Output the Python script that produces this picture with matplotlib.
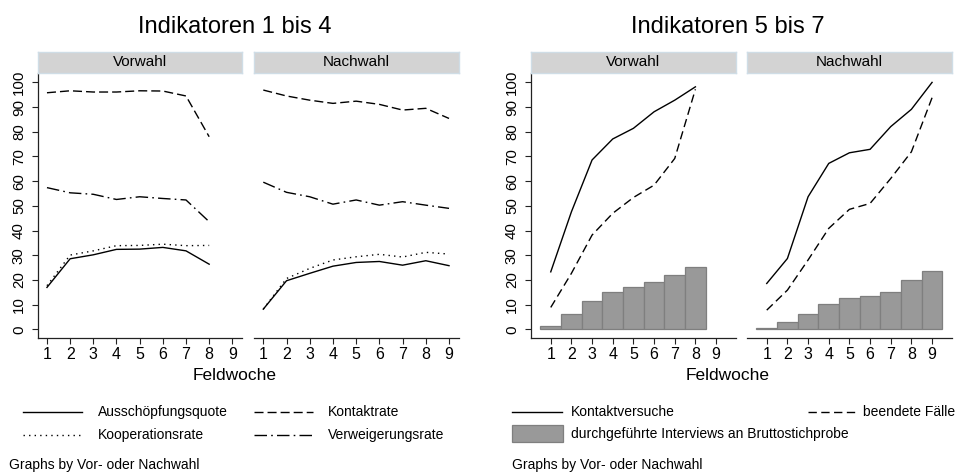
import matplotlib
matplotlib.use("Agg")
import matplotlib.pyplot as plt
from matplotlib.lines import Line2D
from matplotlib.patches import Rectangle

plt.rcParams['font.family'] = ['Liberation Sans', 'DejaVu Sans']

# ---------------- data ----------------
weeks_vor = [1, 2, 3, 4, 5, 6, 7, 8]
weeks_nach = [1, 2, 3, 4, 5, 6, 7, 8, 9]

# Indikatoren 1 bis 4
aus_vor = [17.0, 28.6, 30.2, 32.4, 32.5, 33.2, 31.8, 26.4]
koop_vor = [17.7, 30.1, 31.8, 33.9, 34.0, 34.5, 33.9, 34.0]
kont_vor = [95.8, 96.6, 96.1, 96.1, 96.6, 96.5, 94.5, 78.0]
verw_vor = [57.4, 55.3, 54.7, 52.6, 53.7, 53.0, 52.4, 43.6]

aus_nach = [8.2, 19.7, 22.7, 25.6, 27.1, 27.5, 26.0, 27.8, 25.8]
koop_nach = [8.2, 20.6, 24.7, 28.1, 29.4, 30.4, 29.3, 31.2, 30.5]
kont_nach = [96.9, 94.5, 92.8, 91.5, 92.4, 91.1, 88.8, 89.5, 85.4]
verw_nach = [59.6, 55.5, 53.7, 50.7, 52.4, 50.3, 51.7, 50.3, 49.0]

# Indikatoren 5 bis 7
versuche_vor = [23.3, 47.6, 68.6, 77.1, 81.4, 88.1, 92.8, 98.2]
beendet_vor = [8.9, 22.7, 38.2, 47.0, 53.4, 58.4, 69.2, 97.2]
interviews_vor = [1.3, 6.2, 11.5, 15.1, 17.3, 19.3, 22.0, 25.4]

versuche_nach = [18.6, 28.7, 53.7, 67.2, 71.5, 72.9, 82.1, 89.1, 100.0]
beendet_nach = [7.8, 15.9, 28.1, 40.9, 48.6, 51.0, 61.1, 71.9, 93.8]
interviews_nach = [0.5, 2.8, 6.1, 10.1, 12.8, 13.6, 15.2, 20.0, 23.8]

panel_labels = ["Vorwahl", "Nachwahl"]
titles = ["Indikatoren 1 bis 4", "Indikatoren 5 bis 7"]
xlabel = "Feldwoche"
legend_left = ["Ausschöpfungsquote", "Kontaktrate", "Kooperationsrate", "Verweigerungsrate"]
legend_right = ["Kontaktversuche", "beendete Fälle", "durchgeführte Interviews an Bruttostichprobe"]
note = "Graphs by Vor- oder Nachwahl"
yticks = [0, 10, 20, 30, 40, 50, 60, 70, 80, 90, 100]
xticks = [1, 2, 3, 4, 5, 6, 7, 8, 9]

# ---------------- styles ----------------
W, H = 963, 472
fig = plt.figure(figsize=(W / 100, H / 100), dpi=100)
fig.patch.set_facecolor('white')

def fx(px):
    return px / W

def fy(py):
    return 1 - py / H

YTOP, YBOT = 73.0, 338.3
STRIP_TOP = 52.0
LW = 1.0
DASH = (6.5, 2.9)
DOT = (1.0, 3.0)
DASHDOT = (9.0, 3.0, 1.2, 3.0)
DASH2 = (6.0, 3.2)
SPINE_C = '#222222'
BAR_C = '#999999'
BAR_EC = '#7f7f7f'
STRIP_FC = '#d3d3d3'
STRIP_EC = '#cfdde6'
TICK_FS = 10.8

def make_axes(x0, x1, xlim, show_y):
    ax = fig.add_axes([fx(x0), fy(YBOT), fx(x1 - x0), (YBOT - YTOP) / H])
    ax.set_xlim(*xlim)
    ax.set_ylim(-3.6, 103.8)
    for s in ['top', 'right']:
        ax.spines[s].set_visible(False)
    ax.spines['bottom'].set_color(SPINE_C)
    ax.spines['bottom'].set_linewidth(0.9)
    ax.set_xticks(xticks)
    ax.tick_params(axis='x', direction='out', length=4.5, width=0.8, colors=SPINE_C,
                   labelsize=TICK_FS + 0.7, labelcolor='black', pad=2)
    if show_y:
        ax.spines['left'].set_color(SPINE_C)
        ax.spines['left'].set_linewidth(0.9)
        ax.set_yticks(yticks)
        ax.tick_params(axis='y', direction='out', length=4.5, width=0.8, colors=SPINE_C,
                       labelsize=TICK_FS, labelcolor='black', pad=4, labelrotation=90)
        for lab in ax.get_yticklabels():
            lab.set_va('center')
    else:
        ax.spines['left'].set_visible(False)
        ax.set_yticks([])
    # strip
    sax = fig.add_axes([fx(x0), fy(YTOP), fx(x1 - x0), (YTOP - STRIP_TOP) / H])
    sax.set_xticks([]); sax.set_yticks([])
    sax.set_facecolor(STRIP_FC)
    for s in sax.spines.values():
        s.set_color(STRIP_EC)
        s.set_linewidth(1.0)
    return ax, sax

panels = [
    (37.7, 242.3, (0.6, 9.43), True),
    (254.0, 459.0, (0.6, 9.43), False),
    (530.7, 735.7, (0.03, 9.95), True),
    (746.7, 951.7, (0.03, 9.95), False),
]

axes = []
for i, (x0, x1, xl, sy) in enumerate(panels):
    ax, sax = make_axes(x0, x1, xl, sy)
    sax.text(0.5, 0.5, panel_labels[i % 2], ha='center', va='center', fontsize=11,
             transform=sax.transAxes)
    axes.append(ax)

# Left group
for ax, wk, aus, koop, kont, verw in [
        (axes[0], weeks_vor, aus_vor, koop_vor, kont_vor, verw_vor),
        (axes[1], weeks_nach, aus_nach, koop_nach, kont_nach, verw_nach)]:
    ax.plot(wk, aus, color='black', lw=LW, linestyle='-')
    ax.plot(wk, kont, color='black', lw=LW, dashes=DASH)
    ax.plot(wk, koop, color='black', lw=LW, dashes=DOT)
    ax.plot(wk, verw, color='black', lw=LW, dashes=DASHDOT)

# Right group
for ax, wk, vers, been, intv in [
        (axes[2], weeks_vor, versuche_vor, beendet_vor, interviews_vor),
        (axes[3], weeks_nach, versuche_nach, beendet_nach, interviews_nach)]:
    ax.bar(wk, intv, width=1.0, color=BAR_C, edgecolor=BAR_EC, linewidth=0.9, zorder=1)
    ax.plot(wk, vers, color='black', lw=LW, linestyle='-', zorder=3)
    ax.plot(wk, been, color='black', lw=LW, dashes=DASH2, zorder=3)

# Titles and x labels
fig.text(fx(234.5), fy(27), titles[0], ha='center', va='center', fontsize=17)
fig.text(fx(728), fy(27), titles[1], ha='center', va='center', fontsize=17)
fig.text(fx(235), fy(376), xlabel, ha='center', va='center', fontsize=12.5)
fig.text(fx(728), fy(376), xlabel, ha='center', va='center', fontsize=12.5)

# Legend (left)
def legline(x0, x1, y, **kw):
    fig.add_artist(Line2D([fx(x0), fx(x1)], [fy(y), fy(y)], transform=fig.transFigure,
                          color='black', lw=LW, **kw))

def legtext(x, y, s):
    fig.text(fx(x), fy(y), s, ha='left', va='center', fontsize=10)

legline(23, 82, 411.7, linestyle='-')
legtext(97.7, 411.7, legend_left[0])
legline(254, 313, 411.7, dashes=DASH)
legtext(328, 411.7, legend_left[1])
legline(23, 82, 435, dashes=DOT)
legtext(97.7, 435, legend_left[2])
legline(254, 313, 435, dashes=DASHDOT)
legtext(328, 435, legend_left[3])

# Legend (right)
legline(512, 562, 411.7, linestyle='-')
legtext(570.7, 411.7, legend_right[0])
legline(808, 858, 411.7, dashes=DASH2)
legtext(863, 411.7, legend_right[1])
fig.add_artist(Rectangle((fx(512), fy(442)), fx(51), (442 - 425) / H, transform=fig.transFigure,
                         facecolor=BAR_C, edgecolor=BAR_EC, linewidth=0.9))
legtext(570.7, 434, legend_right[2])

# notes
fig.text(fx(9), fy(465), note, ha='left', va='center', fontsize=10)
fig.text(fx(512), fy(465), note, ha='left', va='center', fontsize=10)

fig.savefig("out.png", dpi=100, facecolor='white')
